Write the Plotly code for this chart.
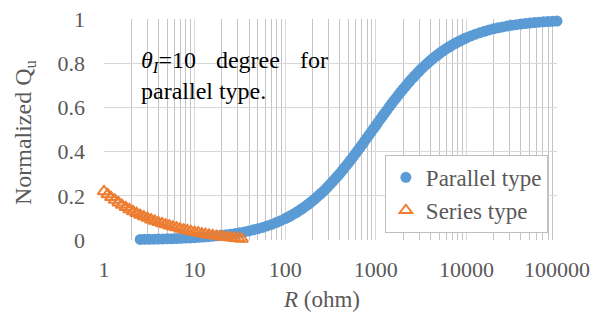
import plotly.graph_objects as go

# Parallel type: R (ohm) vs normalized Qu
par_R = [2.51, 2.82, 3.16, 3.55, 3.98, 4.47, 5.01, 5.62, 6.31, 7.08, 7.94, 8.91,
         10.0, 11.2, 12.6, 14.1, 15.8, 17.8, 20.0, 22.4, 25.1, 28.2, 31.6, 35.5,
         39.8, 44.7, 50.1, 56.2, 63.1, 70.8, 79.4, 89.1,
         100, 105.9, 112, 118.9, 126, 133.4, 141, 149.6, 158, 167.9,
         178, 188.4, 200, 211.3, 224, 237.1, 251, 266.1, 282, 298.5,
         316, 335, 355, 375.8, 398, 421.7, 447, 473.2, 501, 530.9,
         562, 595.7, 631, 668.3, 708, 749.9, 794, 841.4, 891, 944.1,
         1000, 1059, 1122, 1189, 1259, 1334, 1413, 1496, 1585, 1679,
         1778, 1884, 1995, 2113, 2239, 2371, 2512, 2661, 2818, 2985,
         3162, 3350, 3548, 3758, 3981, 4217, 4467, 4732, 5012, 5309,
         5623, 5957, 6310, 6683, 7079, 7499, 7943, 8414, 8913, 9441,
         10000, 11220, 12589, 14125, 15849, 17783, 19953, 22387, 25119, 28184,
         31623, 35481, 39811, 44668, 50119, 56234, 63096, 70795, 79433, 89125,
         100000]
par_Q = [0.0027, 0.0030, 0.0034, 0.0038, 0.0043, 0.0048, 0.0054, 0.0060, 0.0067,
         0.0076, 0.0085, 0.0095, 0.0106, 0.0119, 0.0134, 0.0149, 0.0167, 0.0188,
         0.0210, 0.0235, 0.0263, 0.0294, 0.0329, 0.0367, 0.0410, 0.0459, 0.0511,
         0.0570, 0.0635, 0.0707, 0.0787, 0.0874,
         0.0971, 0.1022, 0.1075, 0.1134, 0.1193, 0.1254, 0.1317, 0.1386, 0.1452, 0.1529,
         0.1606, 0.1685, 0.1770, 0.1851, 0.1941, 0.2032, 0.2125, 0.2225, 0.2327, 0.2430,
         0.2536, 0.2648, 0.2763, 0.2878, 0.2997, 0.3120, 0.3246, 0.3372, 0.3501, 0.3634,
         0.3767, 0.3904, 0.4042, 0.4181, 0.4322, 0.4464, 0.4606, 0.4750, 0.4893, 0.5038,
         0.5181, 0.5324, 0.5468, 0.5611, 0.5751, 0.5892, 0.6031, 0.6167, 0.6302, 0.6435,
         0.6566, 0.6695, 0.6821, 0.6944, 0.7065, 0.7183, 0.7298, 0.7410, 0.7519, 0.7625,
         0.7727, 0.7827, 0.7923, 0.8016, 0.8106, 0.8193, 0.8277, 0.8357, 0.8435, 0.8509,
         0.8581, 0.8650, 0.8715, 0.8778, 0.8839, 0.8897, 0.8952, 0.9005, 0.9055, 0.9103,
         0.9149, 0.9235, 0.9312, 0.9382, 0.9446, 0.9503, 0.9555, 0.9601, 0.9643, 0.9681,
         0.9714, 0.9744, 0.9772, 0.9796, 0.9818, 0.9837, 0.9855, 0.9870, 0.9884, 0.9897,
         0.9908]

# Series type
ser_R = [1.0, 1.10, 1.20, 1.32, 1.45, 1.58, 1.74, 1.91, 2.09, 2.29, 2.51, 2.75,
         3.02, 3.31, 3.63, 3.98, 4.37, 4.79, 5.25, 5.75, 6.31, 6.92, 7.59, 8.32,
         9.12, 10.0, 10.96, 12.02, 13.18, 14.45, 15.85, 17.38, 19.05, 20.89,
         22.91, 25.12, 27.54, 30.2, 33.1]
ser_Q = [0.220, 0.206, 0.193, 0.181, 0.169, 0.158, 0.148, 0.138, 0.129, 0.121,
         0.113, 0.106, 0.099, 0.092, 0.086, 0.080, 0.075, 0.070, 0.065, 0.060,
         0.056, 0.051, 0.047, 0.043, 0.039, 0.036, 0.033, 0.029, 0.026, 0.023,
         0.021, 0.018, 0.016, 0.014, 0.012, 0.010, 0.008, 0.007, 0.005]

x_ticks = [1, 10, 100, 1000, 10000, 100000]
x_tick_labels = ["1", "10", "100", "1000", "10000", "100000"]
y_ticks = [0, 0.2, 0.4, 0.6, 0.8, 1]
y_tick_labels = ["0", "0.2", "0.4", "0.6", "0.8", "1"]

FONT = "Liberation Serif, Times New Roman, serif"
GREY = "#595959"

fig = go.Figure()
fig.add_trace(go.Scatter(
    x=par_R, y=par_Q, mode="markers", name="Parallel type",
    marker=dict(symbol="circle", size=11, color="#5b9bd5"),
    cliponaxis=False))
fig.add_trace(go.Scatter(
    x=ser_R, y=ser_Q, mode="markers", name="Series type",
    marker=dict(symbol="triangle-up-open", size=11, color="#ed7d31",
                line=dict(width=2, color="#ed7d31")),
    cliponaxis=False))

fig.update_layout(
    width=603, height=320,
    margin=dict(l=104, r=46, t=19, b=80, autoexpand=False),
    paper_bgcolor="white", plot_bgcolor="white",
    font=dict(family=FONT, size=22, color=GREY),
    hovermode=False,
    showlegend=True,
    legend=dict(x=0.62, y=0.385, xanchor="left", yanchor="top",
                bgcolor="white", bordercolor="#bfbfbf", borderwidth=1,
                font=dict(family=FONT, size=23, color=GREY),
                tracegroupgap=0),
)
fig.update_xaxes(
    type="log", range=[0, 5], automargin=False,
    tickmode="array", tickvals=x_ticks, ticktext=x_tick_labels,
    showgrid=True, gridcolor="#d9d9d9", gridwidth=1,
    minor=dict(dtick="D1", showgrid=True, gridcolor="#c4c4c4", gridwidth=1),
    showline=False, zeroline=False, ticks="",
    ticklabelstandoff=14,
    tickfont=dict(family=FONT, size=22, color=GREY),
)
fig.update_yaxes(
    range=[0, 1], automargin=False,
    tickmode="array", tickvals=y_ticks, ticktext=y_tick_labels,
    showgrid=True, gridcolor="#d9d9d9", gridwidth=1,
    showline=False, zeroline=False, ticks="",
    ticklabelstandoff=18,
    tickfont=dict(family=FONT, size=22, color=GREY),
)

# white text box behind the note
fig.add_shape(type="rect", xref="paper", yref="paper",
              x0=0.031, x1=0.534, y0=0.566, y1=0.928,
              fillcolor="white", line=dict(width=0), layer="between")
GAP = "\u00a0\u00a0\u00a0\u200a"
fig.add_annotation(
    xref="paper", yref="paper", x=0.077, y=0.745,
    xanchor="left", yanchor="middle", align="left", showarrow=False,
    text="<i>θ<sub>I</sub></i>=10" + GAP + "degree" + GAP + "for<br>parallel type.",
    font=dict(family=FONT, size=24, color="black"))

# axis titles
fig.add_annotation(
    xref="paper", yref="paper", x=-0.174, y=0.489,
    xanchor="center", yanchor="middle", textangle=-90, showarrow=False,
    text="Normalized Q<sub>u</sub>",
    font=dict(family=FONT, size=24, color=GREY))
fig.add_annotation(
    xref="paper", yref="paper", x=0.48, y=-0.271,
    xanchor="center", yanchor="middle", showarrow=False,
    text="<i>R</i> (ohm)",
    font=dict(family=FONT, size=23, color=GREY))

fig.write_html("out.html",
               config={"displayModeBar": False, "staticPlot": True},
               post_script="document.body.style.margin='0';document.body.style.overflow='hidden';")
